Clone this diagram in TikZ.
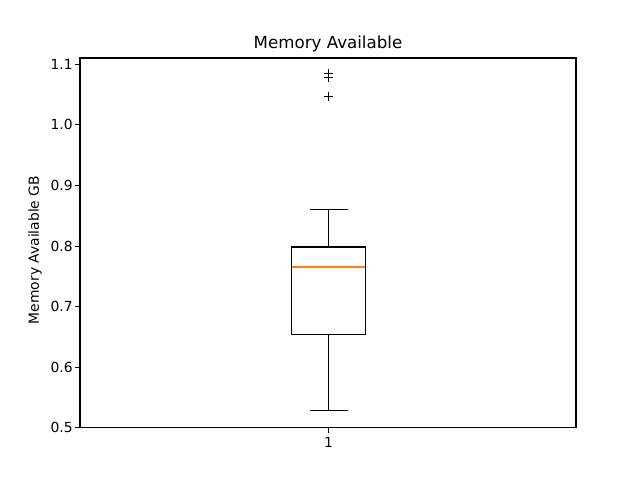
\documentclass[tikz,border=0pt]{standalone}
\usepackage{fontspec}
\setmainfont{DejaVu Sans}
\definecolor{medorange}{RGB}{255,127,14}
\begin{document}
\begin{tikzpicture}[x=0.75pt,y=0.75pt,font=\fontsize{10.4}{12}\selectfont,line join=miter,line cap=butt]
	\tikzset{flier/.pic={
			\draw[line width=0.8pt] (-4.2,0)--(4.2,0) (0,-4.2)--(0,4.2);
		},
		boxline/.style={line width=1.1pt,black},
		tick/.style={line width=0.7pt}}
	\useasboundingbox[fill=white] (0,0) rectangle (640,480);
	\begin{scope}[shift={(0,52.3)}]
		% y ticks
		\foreach \v/\t in {0.5/0.5,0.6/0.6,0.7/0.7,0.8/0.8,0.9/0.9,1.0/1.0,1.1/1.1}{
			\draw[tick] (80,{(\v-0.5)*605.7})--++(-4.9,0) node[left=1.5pt,inner sep=0pt] {\t};
		}
		\draw[tick] (328.5,0)--++(0,-4.9) node[below=3pt,inner sep=0pt] (xt) {1};
		% box
		\draw[boxline] (291.5,{(0.654-0.5)*605.7}) rectangle (365.5,{(0.798-0.5)*605.7});
		\draw[boxline] (328.5,{(0.798-0.5)*605.7})--(328.5,{(0.8606-0.5)*605.7})
			(309.5,{(0.8606-0.5)*605.7})--(347.5,{(0.8606-0.5)*605.7});
		\draw[boxline] (328.5,{(0.654-0.5)*605.7})--(328.5,{(0.5287-0.5)*605.7})
			(309.5,{(0.5287-0.5)*605.7})--(347.5,{(0.5287-0.5)*605.7});
		\draw[line width=1.3pt,medorange] (292,{(0.765-0.5)*605.7})--(365,{(0.765-0.5)*605.7});
		\path
		(328.5,{(1.085-0.5)*605.7})pic{flier}
		(328.5,{(1.078-0.5)*605.7})pic{flier}
		(328.5,{(1.0465-0.5)*605.7})pic{flier}
		;
		% axes
		\draw[line width=0.8pt] (80,0) rectangle (576,{(1.1104-0.5)*605.7});
	\end{scope}
	\node[font=\fontsize{12.5}{14}\selectfont] (title) at (328,436) {Memory Available};
	\node[rotate=90] (ylab) at (35,230) {Memory Available GB};
\end{tikzpicture}
\end{document}
